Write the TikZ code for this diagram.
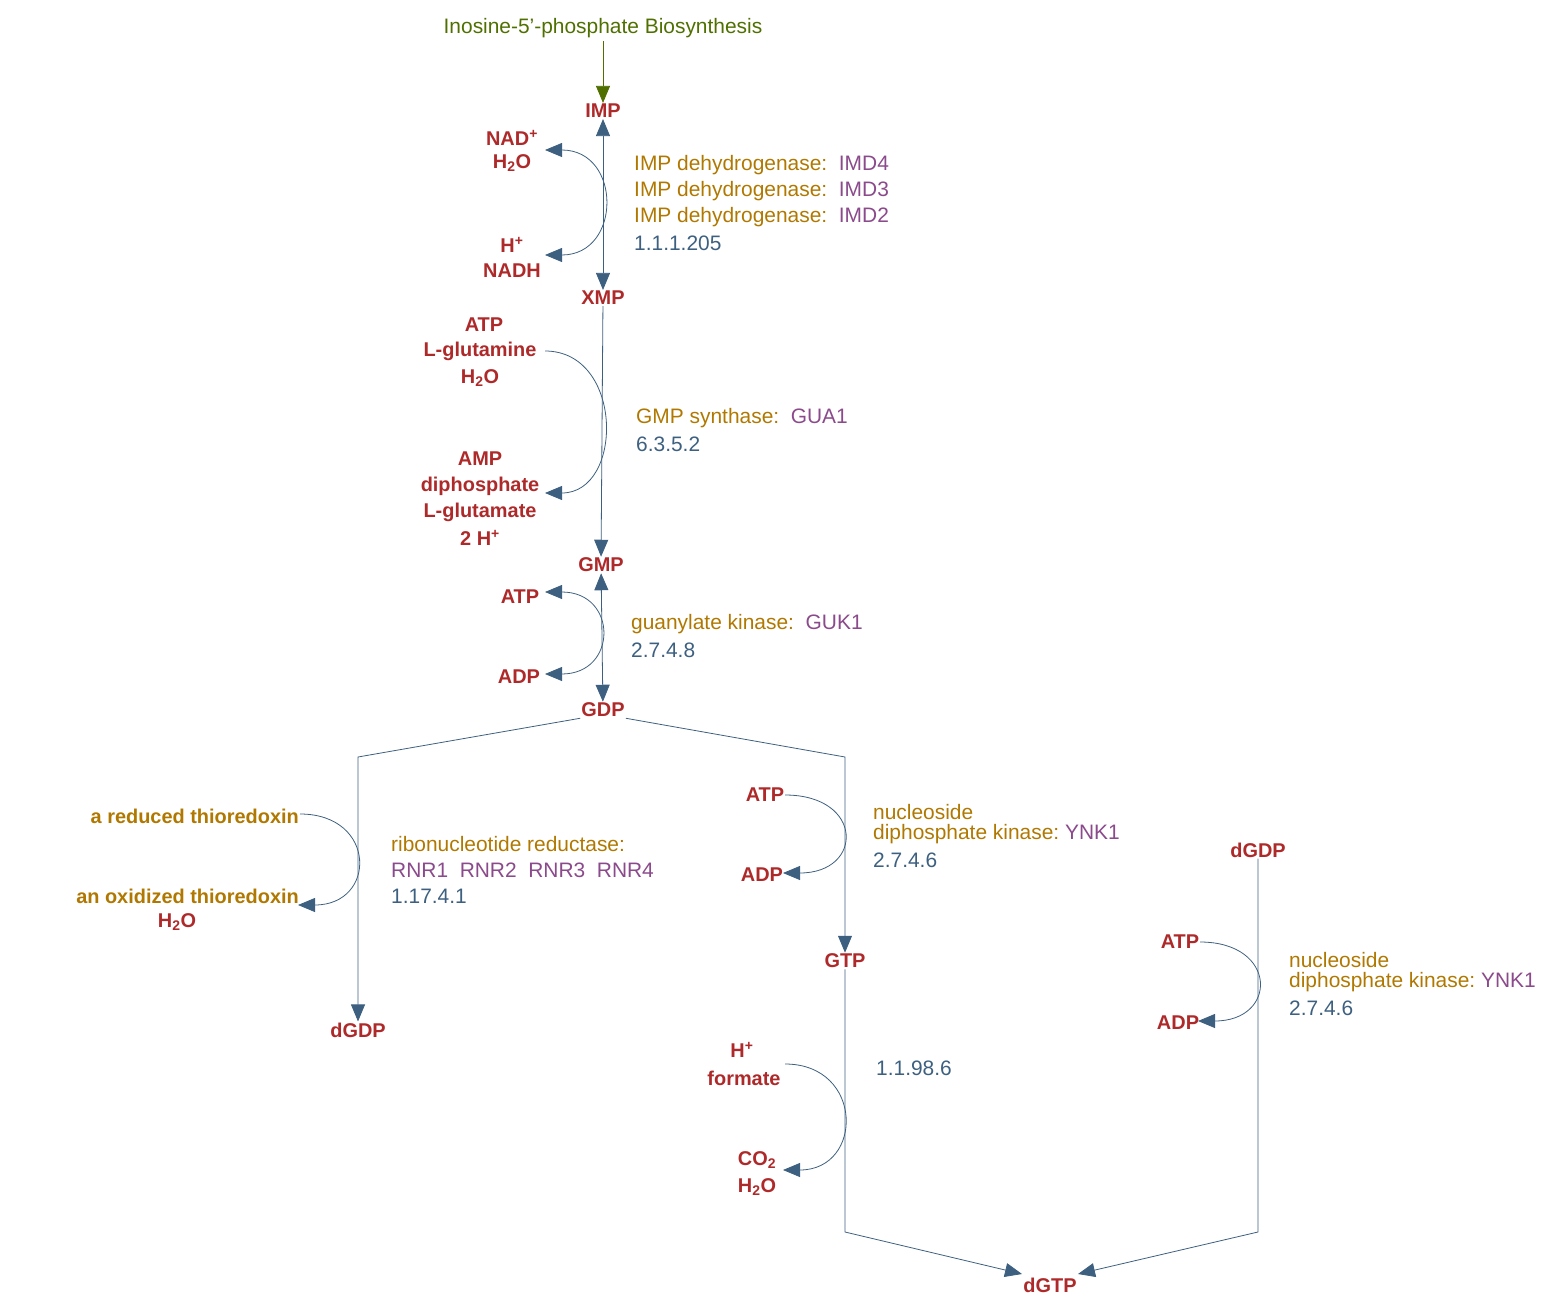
\documentclass[tikz,border=0pt]{standalone}
\usepackage{fontspec}
\setmainfont{Liberation Sans}
\usetikzlibrary{arrows.meta}
\definecolor{met}{HTML}{AE2A2A}
\definecolor{enz}{HTML}{B07800}
\definecolor{gen}{HTML}{8B4A8B}
\definecolor{ec}{HTML}{3D6080}
\definecolor{grn}{HTML}{4F7000}
\begin{document}
\begin{tikzpicture}[x=1bp,y=-1bp,
  m/.style={font=\fontsize{20}{24}\selectfont\bfseries,text=met,inner sep=1bp},
  mo/.style={font=\fontsize{20}{24}\selectfont\bfseries,text=enz,inner sep=1bp},
  t/.style={font=\fontsize{21}{24}\selectfont,anchor=west,inner sep=0},
  ln/.style={draw=ec,line width=0.8bp},
  tip/.style={-{Triangle[length=17bp,width=14bp]}},
  both/.style={{Triangle[length=17bp,width=14bp]}-{Triangle[length=17bp,width=14bp]}}]
\useasboundingbox (0,0) rectangle (1554,1306);
% top
\node[font=\fontsize{21}{24}\selectfont,text=grn] (src) at (603,28) {Inosine-5'-phosphate Biosynthesis};
\node[m] (imp) at (603,111) {IMP};
\node[m] (xmp) at (603,298) {XMP};
\node[m] (gmp) at (601,565) {GMP};
\node[m] (gdp) at (603,710) {GDP};
\node[m] (dgdp1) at (358,1030) {dGDP};
\node[m] (gtp) at (845,961) {GTP};
\node[m] (dgdp2) at (1258,850) {dGDP};
\node[m] (dgtp) at (1050,1285) {dGTP};
\draw[draw=grn,line width=0.8bp,-{Triangle[length=17bp,width=14bp]}] (src) -- (imp);
% IMP-XMP
\draw[ln,both] (imp) -- (xmp);
\node[m] (nad) at (512,138) {NAD\textsuperscript{+}};
\node[m] (h2oa) at (512,163) {H\textsubscript{2}O};
\node[m] (hp) at (512,245) {H\textsuperscript{+}};
\node[m] (nadh) at (512,271) {NADH};
\coordinate (c1a) at (545,150); \coordinate (c1b) at (545,255);
\draw[ln,both] (c1a) .. controls (622,150) and (622,255) .. (c1b);
\node[t] (e1) at (634,165) {\color{enz}IMP dehydrogenase:\ \ \color{gen}IMD4};
\node[t] (e2) at (634,191) {\color{enz}IMP dehydrogenase:\ \ \color{gen}IMD3};
\node[t] (e3) at (634,217) {\color{enz}IMP dehydrogenase:\ \ \color{gen}IMD2};
\node[t,text=ec] (e4) at (634,243) {1.1.1.205};
% XMP-GMP
\draw[ln,tip] (xmp) -- (gmp);
\node[m] (atp1) at (484,325) {ATP};
\node[m] (gln) at (480,351) {L-glutamine};
\node[m] (h2ob) at (480,378) {H\textsubscript{2}O};
\node[m] (amp) at (480,459) {AMP};
\node[m] (ppi) at (480,486) {diphosphate};
\node[m] (glu) at (480,512) {L-glutamate};
\node[m] (hh) at (480,538) {2 H\textsuperscript{+}};
\coordinate (c2a) at (545,351); \coordinate (c2b) at (545,493);
\draw[ln,tip] (c2a) .. controls (624,351) and (624,493) .. (c2b);
\node[t,text=enz] (f1) at (636,418) {GMP synthase:\ \ \color{gen}GUA1};
\node[t,text=ec] (f2) at (636,444) {6.3.5.2};
% GMP-GDP
\draw[ln,both] (gmp) -- (gdp);
\node[m] (atp2) at (520,597) {ATP};
\node[m] (adp2) at (519,677) {ADP};
\coordinate (c3a) at (545,592); \coordinate (c3b) at (545,674);
\draw[ln,both] (c3a) .. controls (618,592) and (618,674) .. (c3b);
\node[t,text=enz] (g1) at (631,624) {guanylate kinase:\ \ \color{gen}GUK1};
\node[t,text=ec] (g2) at (631,650) {2.7.4.8};
% GDP -> dGDP
\coordinate (b1) at (358,757);
\draw[ln,tip] (gdp.south west) -- (b1) -- (dgdp1);
\node[mo,anchor=east] (thr) at (300,816) {a reduced thioredoxin};
\node[mo,anchor=east] (thx) at (300,896) {an oxidized thioredoxin};
\node[m] (h2oc) at (177,922) {H\textsubscript{2}O};
\coordinate (c4a) at (300,814); \coordinate (c4b) at (298,905);
\draw[ln,tip] (c4a) .. controls (377,814) and (377,905) .. (c4b);
\node[t,text=enz] (r1) at (391,844) {ribonucleotide reductase:};
\node[t,text=gen] (r2) at (391,870) {RNR1\ \ RNR2\ \ RNR3\ \ RNR4};
\node[t,text=ec] (r3) at (391,896) {1.17.4.1};
% GDP -> GTP
\coordinate (b2) at (845,757);
\draw[ln,tip] (gdp.south east) -- (b2) -- (gtp);
\node[m] (atp3) at (765,795) {ATP};
\node[m] (adp3) at (762,875) {ADP};
\coordinate (c5a) at (785,795); \coordinate (c5b) at (783,873);
\draw[ln,tip] (c5a) .. controls (864,795) and (864,873) .. (c5b);
\node[t,text=enz] (n1) at (873,812) {nucleoside};
\node[t,text=enz] (n2) at (873,834) {diphosphate kinase:\ \color{gen}YNK1};
\node[t,text=ec] (n3) at (873,860) {2.7.4.6};
% GTP -> dGTP
\coordinate (b3) at (845,1232);
\coordinate (d1) at (1022,1274);
\draw[ln,tip] (gtp) -- (b3) -- (d1);
\node[m] (hp2) at (742,1050) {H\textsuperscript{+}};
\node[m] (form) at (744,1078) {formate};
\node[m] (co2) at (757,1160) {CO\textsubscript{2}};
\node[m] (h2od) at (757,1187) {H\textsubscript{2}O};
\coordinate (c6a) at (785,1064); \coordinate (c6b) at (783,1170);
\draw[ln,tip] (c6a) .. controls (864,1064) and (864,1170) .. (c6b);
\node[t,text=ec] (o1) at (876,1068) {1.1.98.6};
% dGDP -> dGTP
\coordinate (b4) at (1258,1232);
\coordinate (d2) at (1078,1274);
\draw[ln,tip] (dgdp2) -- (b4) -- (d2);
\node[m] (atp4) at (1180,942) {ATP};
\node[m] (adp4) at (1178,1023) {ADP};
\coordinate (c7a) at (1200,942); \coordinate (c7b) at (1198,1021);
\draw[ln,tip] (c7a) .. controls (1278,942) and (1278,1021) .. (c7b);
\node[t,text=enz] (p1) at (1289,960) {nucleoside};
\node[t,text=enz] (p2) at (1289,982) {diphosphate kinase:\ \color{gen}YNK1};
\node[t,text=ec] (p3) at (1289,1008) {2.7.4.6};
\end{tikzpicture}
\end{document}
